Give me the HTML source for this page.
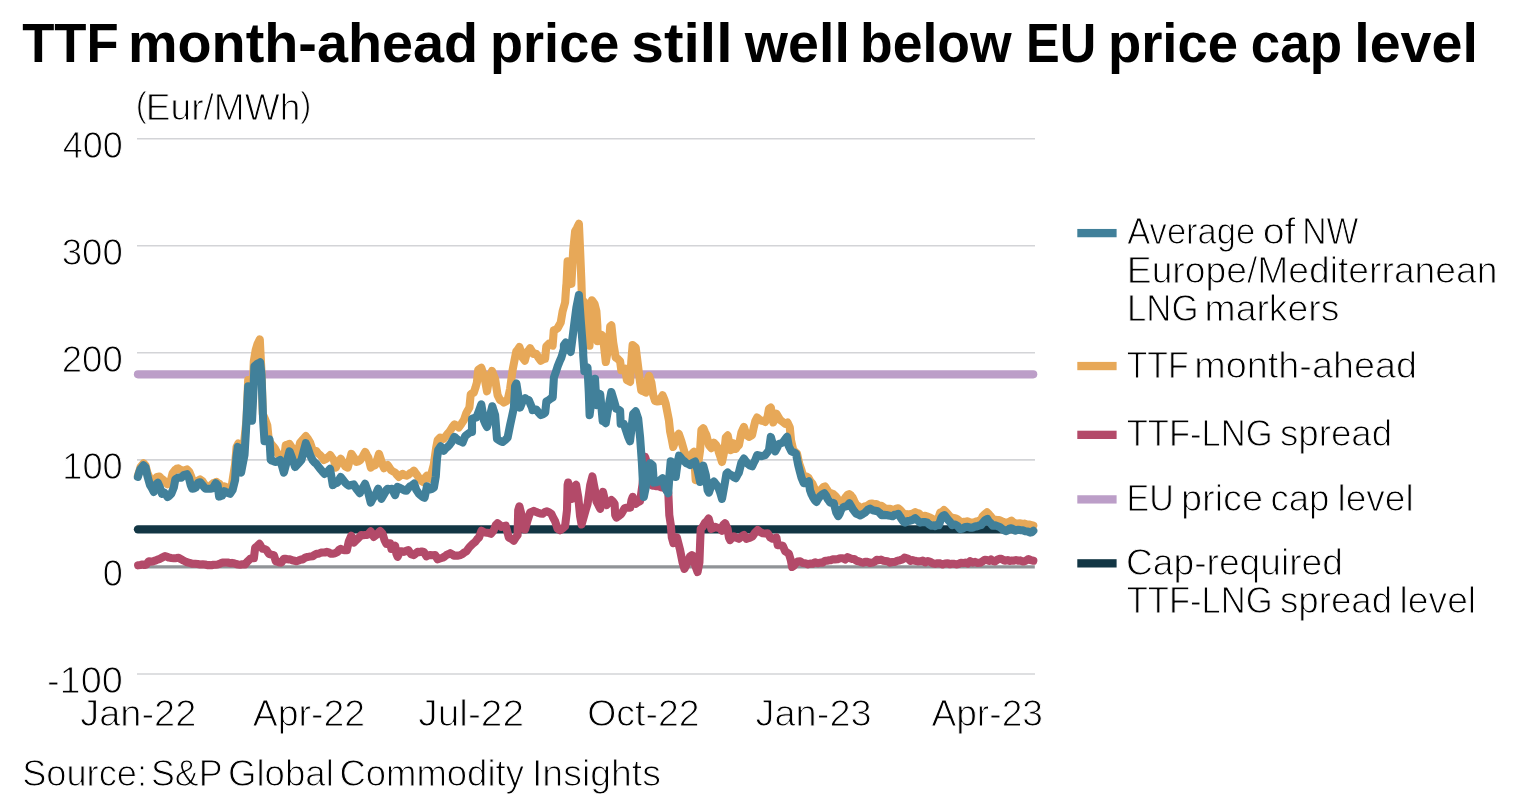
<!DOCTYPE html>
<html lang="en"><head><meta charset="utf-8"><title>TTF month-ahead price still well below EU price cap level</title>
<style>
html,body{margin:0;padding:0;background:#fff;}
body{width:1526px;height:808px;overflow:hidden;font-family:"Liberation Sans", sans-serif;}
svg{display:block;}
text{font-family:"Liberation Sans", sans-serif;fill:#000;}
text.b{font-weight:bold;}
text.r{stroke:#fff;stroke-width:1.0px;stroke-linejoin:round;}
.grid line{stroke:#d3d4d7;stroke-width:1.6;}
.s{fill:none;stroke-width:8.1;stroke-linejoin:round;stroke-linecap:round;}
</style></head>
<body>
<svg width="1526" height="808" viewBox="0 0 1526 808">
<rect width="1526" height="808" fill="#fff"/>
<g class="grid"><line x1="137" x2="1035" y1="138.7" y2="138.7"/><line x1="137" x2="1035" y1="245.8" y2="245.8"/><line x1="137" x2="1035" y1="352.8" y2="352.8"/><line x1="137" x2="1035" y1="459.9" y2="459.9"/><line x1="137" x2="1035" y1="674.0" y2="674.0"/></g>
<line x1="137" x2="1034.8" y1="566.9" y2="566.9" stroke="#909397" stroke-width="3.4"/>
<line class="s" x1="138" x2="1033.2" y1="374.35" y2="374.35" stroke="#bc9ec8" style="stroke-width:8.2"/>
<line class="s" x1="138" x2="1032" y1="529.35" y2="529.35" stroke="#123644" style="stroke-width:8.4"/>
<polyline class="s" stroke="#e7a858" points="137.9,475.7 139.2,471.6 140.6,466.9 142.1,465.2 143.5,463.2 145.6,465.7 147.5,473.2 149.1,476.7 150.7,479.4 152.2,479.6 153.8,480.7 155.4,478.8 156.9,476.9 159.4,476.5 160.9,478.1 162.5,479.4 165.0,481.6 167.5,484.4 170.1,483.2 172.6,473.2 175.1,470.0 176.6,468.8 178.2,468.4 180.4,469.9 182.6,470.7 184.8,470.3 186.9,469.4 189.4,471.9 191.0,475.9 192.6,480.7 195.1,481.9 197.6,481.0 200.1,479.4 202.6,481.3 204.4,484.2 206.3,486.3 208.2,486.5 210.1,486.9 211.6,484.6 213.2,483.2 214.8,482.8 216.4,481.9 217.9,483.2 219.5,483.8 222.0,488.8 224.5,486.3 226.1,487.1 227.6,488.8 229.6,487.6 231.6,486.9 233.3,475.7 235.1,464.4 236.6,446.9 238.4,443.5 239.9,456.1 241.3,468.0 243.9,444.5 246.5,420.0 248.2,380.0 250.5,395.0 252.0,410.0 253.8,361.3 255.7,350.0 257.6,343.8 259.8,339.4 260.3,350.0 261.3,368.8 262.0,387.6 262.8,414.0 265.1,419.3 267.3,425.3 268.8,440.1 271.0,443.7 273.2,446.3 275.1,448.8 276.9,452.4 278.8,455.1 281.4,457.9 283.9,461.3 285.7,445.1 287.6,444.5 289.5,443.8 291.4,446.8 293.2,450.1 294.8,453.4 296.4,457.6 298.2,450.3 300.1,442.6 302.0,440.5 303.9,438.3 305.8,436.1 308.0,439.0 310.1,442.6 312.6,450.1 314.5,450.5 316.4,451.1 318.3,453.6 320.2,455.1 322.0,457.1 323.9,460.1 326.0,458.9 328.1,457.1 330.2,455.1 332.0,457.6 333.9,460.1 335.8,467.6 338.3,462.7 340.8,458.8 343.0,462.5 345.2,466.3 347.7,467.6 349.5,461.1 351.4,453.8 353.9,457.5 356.4,462.0 358.3,461.4 360.2,460.1 362.7,456.5 365.2,452.0 366.8,455.0 368.3,457.6 370.8,467.6 373.0,465.9 375.2,465.1 377.1,459.9 379.0,453.8 380.9,459.5 382.7,465.1 384.0,468.2 385.9,467.0 387.7,465.1 389.4,467.5 391.0,470.1 393.1,471.5 395.1,472.5 397.0,474.9 398.9,476.9 400.8,475.1 402.6,473.8 404.5,475.2 406.4,475.7 408.2,474.9 410.1,473.2 412.0,472.3 413.9,470.7 415.4,472.8 417.0,475.0 419.5,478.8 421.1,480.6 422.7,481.9 425.2,477.5 427.0,475.7 428.6,476.8 430.2,478.8 431.9,471.7 433.7,465.0 436.2,447.5 437.7,440.0 440.1,437.5 442.0,438.3 443.8,438.8 445.7,436.3 447.6,433.8 449.5,431.7 451.3,428.8 452.9,426.3 454.5,424.4 456.6,425.5 458.8,427.5 461.4,423.8 463.9,420.0 466.3,413.2 467.9,410.2 469.4,407.6 470.7,394.4 472.2,393.2 473.8,392.6 475.4,387.8 476.9,382.5 478.2,370.0 479.8,368.7 481.3,367.8 482.9,372.5 484.5,377.5 487.0,391.3 489.5,376.3 492.0,371.0 493.6,375.3 495.1,378.8 497.6,395.1 500.1,400.1 502.0,401.0 503.9,402.6 505.8,401.5 507.6,400.1 510.1,388.8 512.6,370.0 514.5,360.3 516.3,351.4 517.8,349.6 519.4,347.0 521.0,351.9 522.5,357.6 524.8,360.7 526.1,355.8 527.5,351.4 528.8,350.2 530.1,348.2 531.7,350.9 533.2,353.9 534.8,354.0 536.3,353.9 538.5,357.6 540.7,360.7 542.9,359.4 545.1,358.9 546.3,346.3 548.8,343.8 550.7,345.2 552.6,345.7 553.8,330.1 555.7,329.6 557.6,328.2 559.2,325.3 560.7,322.6 562.6,311.3 565.1,302.5 566.3,285.0 566.3,287.6 567.6,261.3 569.5,275.1 571.4,283.9 573.2,250.1 575.1,231.3 577.0,228.0 578.9,223.8 580.1,250.1 581.4,281.4 582.0,301.4 582.0,300.0 583.9,301.4 585.7,303.8 587.0,326.3 589.5,345.7 590.8,320.1 592.0,300.3 594.5,303.8 596.4,311.3 597.4,326.3 597.6,341.3 599.8,338.5 602.0,335.1 603.9,345.1 605.8,362.0 607.3,353.2 608.9,345.1 610.2,326.3 611.4,325.3 613.2,342.5 615.7,357.5 617.9,358.9 620.1,361.3 621.3,370.1 623.2,369.8 625.1,368.8 626.9,380.1 628.5,380.9 630.1,381.9 631.3,361.3 632.6,345.0 634.2,346.2 635.7,347.5 638.2,367.5 640.1,382.6 641.3,390.7 643.5,391.3 645.7,392.6 647.6,380.1 649.1,375.9 651.4,382.6 653.2,395.1 655.1,401.1 657.3,401.5 659.5,401.3 661.0,398.1 662.6,395.3 664.2,399.1 665.7,403.8 667.3,412.1 668.9,420.1 670.1,431.4 671.7,438.9 673.2,446.9 674.8,442.4 676.3,437.5 678.8,433.8 680.1,437.6 681.4,441.3 683.9,450.1 686.4,458.8 688.2,456.9 690.1,455.1 692.0,453.9 693.9,451.9 695.7,480.1 697.9,465.4 700.1,450.1 701.4,430.0 703.3,428.2 704.8,431.7 706.4,435.0 708.9,445.1 711.4,448.2 713.9,442.6 715.8,444.7 717.6,447.6 718.9,452.4 720.2,456.3 722.0,462.0 724.5,450.1 725.8,437.5 727.7,435.4 730.2,447.6 730.8,450.1 733.3,443.2 735.8,448.8 737.3,446.7 738.9,445.1 741.4,432.5 743.9,426.9 746.4,435.0 748.9,436.9 750.5,436.0 752.1,435.0 753.7,427.7 755.2,421.3 757.1,417.5 759.3,419.4 761.5,420.7 763.4,421.0 765.2,421.9 767.7,416.3 769.0,408.8 770.8,407.5 773.3,422.5 774.9,417.9 776.5,413.8 778.4,417.0 780.2,420.0 782.7,421.9 785.2,423.8 787.5,422.5 789.8,427.5 791.0,440.1 793.2,449.8 795.1,451.9 797.0,453.6 799.3,463.8 801.1,469.0 803.0,475.1 804.8,476.3 806.5,476.5 808.3,477.6 810.4,481.2 812.5,483.8 814.1,487.5 815.7,490.1 817.2,491.0 818.8,491.3 820.3,490.1 821.9,488.8 823.5,487.0 825.0,486.3 826.9,489.3 828.8,492.6 831.0,493.2 833.2,494.1 835.4,496.0 837.6,498.8 839.2,500.4 840.7,501.3 842.2,500.7 843.8,500.1 846.3,496.3 847.7,494.7 849.1,494.1 850.9,495.4 852.6,497.6 854.5,501.6 856.3,505.1 858.2,505.9 860.1,507.6 862.6,507.4 865.1,506.3 867.6,505.6 870.1,503.8 872.2,503.5 874.3,504.5 876.4,504.1 878.9,505.5 881.4,505.7 883.2,507.0 885.1,508.8 887.6,508.8 890.1,508.8 892.0,509.5 893.9,510.1 896.1,508.7 898.3,508.2 899.8,509.5 901.4,511.3 903.2,513.4 905.1,514.5 907.0,514.1 908.9,514.5 911.0,514.1 913.1,513.4 915.2,512.0 917.0,513.2 918.9,513.2 921.4,516.3 923.3,516.3 925.2,515.7 927.0,516.4 928.9,517.0 931.4,518.4 933.9,520.1 935.8,519.6 937.7,520.1 940.2,512.6 942.0,511.9 943.9,510.1 945.8,511.8 947.7,513.8 949.6,516.1 951.5,518.8 953.4,517.9 955.2,518.2 957.3,519.2 959.4,520.9 961.5,522.6 963.6,521.8 965.6,521.7 967.7,521.3 969.9,522.4 972.1,522.6 974.0,522.4 975.8,521.6 977.7,521.3 979.4,520.6 981.0,520.1 982.6,516.3 984.8,514.1 987.0,512.3 988.6,513.7 990.2,515.7 991.8,517.6 993.3,520.1 995.2,519.6 997.0,520.0 998.9,520.1 1001.0,520.9 1003.1,521.9 1005.2,522.6 1007.3,522.5 1009.3,521.8 1011.4,520.7 1013.3,522.3 1015.2,523.2 1017.7,523.6 1020.2,523.2 1022.3,524.0 1024.3,523.6 1026.4,524.4 1029.0,524.5 1031.5,525.1 1033.3,525.7"/>
<polyline class="s" stroke="#b34a69" points="138.1,565.3 140.3,565.0 142.5,564.5 144.4,565.0 146.3,564.5 148.8,561.3 150.9,561.6 152.9,561.4 155.0,560.7 157.5,559.6 160.0,558.8 162.5,557.4 165.0,556.1 166.9,556.6 168.8,557.6 171.3,558.0 173.8,558.2 176.3,558.1 178.8,557.8 180.7,559.0 182.6,560.1 184.4,561.0 186.3,562.0 188.4,562.6 190.5,563.2 192.6,563.8 195.1,563.7 197.6,564.0 200.1,564.5 202.6,564.2 205.1,564.5 207.2,565.1 209.3,565.1 211.4,565.3 213.5,564.8 215.5,564.8 217.6,564.5 220.1,563.6 222.6,562.6 225.1,562.5 227.6,562.5 230.1,563.2 232.0,562.9 233.9,563.2 236.0,564.0 238.0,564.5 240.1,564.8 242.6,564.2 245.1,564.5 247.6,561.3 250.2,558.8 252.1,558.1 253.9,558.2 255.2,547.6 257.4,545.9 259.5,543.8 261.1,546.6 262.7,548.8 264.5,549.0 266.4,550.1 268.9,553.8 271.4,554.6 273.9,555.1 275.8,561.3 277.7,561.8 279.5,562.5 281.4,562.6 283.9,558.8 286.0,558.8 288.1,559.4 290.2,559.4 292.3,560.3 294.4,560.7 296.5,561.3 298.6,560.5 300.6,559.6 302.7,559.4 305.2,557.7 307.7,556.9 310.2,556.6 312.7,556.3 314.6,554.8 316.5,553.8 318.8,553.6 321.0,552.6 323.0,552.5 324.9,552.5 326.9,551.9 328.8,552.4 330.6,553.6 332.5,553.8 335.0,553.3 337.5,551.9 339.1,549.9 340.7,548.8 342.2,549.8 343.8,550.1 345.4,550.0 346.9,550.1 348.8,541.3 351.3,535.7 353.8,542.6 355.7,540.7 357.6,538.8 359.5,536.9 361.3,535.0 363.2,535.2 365.1,535.0 366.6,535.0 368.2,534.4 370.7,531.3 372.2,533.7 373.8,536.9 375.7,535.4 377.6,533.8 380.1,531.0 382.6,533.8 384.5,540.1 386.4,543.8 388.2,543.4 390.1,543.2 391.4,548.8 393.2,547.5 395.1,545.7 396.4,553.8 397.6,556.9 400.1,551.3 402.0,551.4 403.9,551.9 406.1,550.8 408.3,550.1 409.9,552.5 411.4,554.4 413.9,555.1 415.8,553.4 417.6,551.9 419.7,552.1 421.8,551.5 423.9,551.9 426.4,556.3 428.3,555.4 430.2,555.1 432.7,555.3 435.2,555.1 437.7,559.4 440.2,558.3 442.7,557.6 444.5,556.6 446.4,555.1 448.3,554.3 450.2,553.2 452.0,554.3 453.9,555.7 456.0,555.5 458.1,555.7 460.2,555.1 462.3,554.1 464.4,552.3 466.5,551.3 468.4,548.5 470.2,546.3 472.7,543.9 475.2,541.9 477.1,539.3 479.0,537.5 481.5,530.7 483.4,531.9 485.2,532.5 487.1,532.8 489.1,533.1 491.0,533.8 492.4,532.0 493.8,530.1 495.7,525.1 497.5,523.2 499.4,524.7 501.3,527.0 503.5,526.2 505.7,525.7 507.5,532.6 508.8,537.6 511.3,538.8 513.8,540.7 515.7,537.6 517.6,535.1 518.2,510.1 519.4,506.3 521.9,516.3 523.5,522.5 525.1,529.5 527.6,520.1 530.1,512.6 532.0,511.8 533.8,510.9 535.7,511.8 537.6,512.6 540.1,513.4 542.6,513.8 544.8,512.1 547.0,511.3 549.2,512.4 551.4,513.8 553.2,517.8 555.1,521.3 557.6,528.8 560.1,530.3 562.6,528.5 565.1,526.3 567.0,510.1 567.6,485.0 568.2,482.5 570.1,491.3 572.0,498.8 573.9,487.5 576.1,484.8 578.3,497.5 580.1,516.3 581.6,524.5 583.9,516.3 585.8,509.6 587.6,503.8 588.9,494.5 590.2,485.0 592.4,476.5 593.8,484.3 595.2,491.3 596.4,501.3 598.3,504.9 600.2,508.8 601.4,497.5 603.0,491.9 605.2,501.3 606.4,505.1 608.9,502.5 611.4,500.1 613.0,501.5 614.6,503.8 615.2,515.1 616.4,517.6 618.9,515.9 621.4,513.8 623.0,511.0 624.6,508.2 626.5,507.8 628.3,507.7 630.2,507.6 631.5,500.1 632.7,496.9 634.2,500.2 635.8,503.8 638.0,502.1 640.1,501.3 642.6,483.8 645.1,456.9 647.6,465.0 650.1,483.8 652.6,485.7 654.7,485.7 656.7,486.2 658.8,486.3 660.7,487.2 662.6,487.5 664.5,487.6 666.4,490.2 668.3,492.6 669.3,515.1 670.8,525.0 671.8,537.5 673.4,543.2 675.1,540.4 676.9,537.5 678.5,543.8 680.1,550.1 682.6,562.6 684.4,568.8 686.0,565.8 687.6,562.6 690.1,556.3 691.9,555.1 693.8,556.3 695.1,565.1 697.6,572.0 699.4,562.6 700.1,543.8 700.7,528.8 702.6,526.9 705.1,522.5 706.9,521.0 708.6,518.5 710.0,523.3 711.3,528.8 713.2,528.2 715.1,526.9 717.6,527.8 720.1,528.2 722.0,530.7 723.2,525.0 725.1,523.2 727.6,528.8 728.9,537.5 730.1,540.1 732.0,537.7 733.9,536.3 736.4,537.8 738.9,538.8 741.4,536.5 743.9,535.0 746.4,538.8 748.5,538.2 750.5,537.4 752.6,536.3 755.1,532.5 757.6,530.0 760.2,532.1 762.7,533.2 765.2,533.5 767.7,533.2 770.2,537.5 772.7,538.8 774.5,538.3 776.4,537.5 777.7,545.1 780.2,545.3 782.7,545.7 785.2,551.3 787.0,552.4 788.9,553.8 790.8,560.1 792.1,567.0 793.7,565.9 795.2,563.8 797.7,561.6 800.2,561.3 802.7,563.0 805.2,563.2 807.7,564.4 810.2,563.6 812.7,563.8 815.2,562.3 817.7,563.2 820.2,562.6 822.7,562.7 825.2,560.7 827.1,560.7 829.1,560.3 831.0,560.1 832.5,559.4 835.0,559.4 837.5,559.3 840.1,558.2 842.6,558.2 845.1,559.5 847.6,557.1 850.1,558.2 852.2,559.0 854.2,559.0 856.3,560.7 858.5,561.2 860.7,562.1 862.9,562.7 865.1,561.9 867.6,561.9 870.1,563.0 872.6,562.6 874.7,561.6 876.7,559.9 878.8,560.1 881.0,559.6 883.2,560.7 885.4,561.0 887.6,561.3 890.1,562.7 892.6,562.0 895.1,561.9 897.6,560.7 900.1,560.2 902.6,559.4 904.5,557.6 906.4,558.2 908.5,558.8 910.5,560.8 912.6,560.1 915.1,560.8 917.7,561.4 920.2,561.3 922.7,560.6 925.2,562.4 927.7,561.0 930.2,561.9 932.7,563.3 935.2,563.9 937.7,563.2 940.2,563.4 942.7,564.4 945.2,563.5 947.7,563.2 949.9,564.3 952.0,563.7 954.2,563.8 956.4,564.4 958.6,564.1 960.8,562.8 963.0,563.1 965.2,562.6 967.7,563.6 970.2,561.1 972.7,562.6 975.2,561.9 977.7,562.9 980.2,562.8 982.7,561.3 984.8,559.7 986.9,560.0 988.9,561.0 991.0,559.4 993.1,561.0 995.2,561.4 997.3,559.8 999.3,558.9 1001.4,558.8 1003.5,560.2 1005.6,560.7 1007.7,560.1 1009.8,560.9 1011.8,560.6 1013.9,560.7 1016.0,560.0 1018.1,560.7 1020.2,560.4 1022.3,561.4 1024.3,561.4 1026.4,560.4 1028.6,559.0 1030.8,560.1 1033.3,560.7"/>
<polyline class="s" stroke="#41809a" points="137.9,476.9 139.2,472.5 140.6,468.8 142.1,467.3 143.5,465.3 145.6,467.6 147.5,476.3 150.0,485.1 151.9,488.2 153.8,492.0 155.7,485.1 157.8,482.8 160.0,487.6 161.9,493.8 164.4,492.6 165.9,494.6 167.5,497.0 169.4,495.8 171.3,493.8 173.8,487.6 175.3,479.4 176.8,478.4 178.2,477.6 179.8,477.5 181.3,477.8 183.8,475.1 185.4,474.8 186.9,474.1 188.8,477.6 190.7,485.1 192.3,488.8 194.0,488.6 195.7,487.6 198.2,482.6 200.1,482.2 202.6,485.1 204.1,487.3 205.7,488.8 207.9,488.7 210.1,488.8 212.6,488.2 214.1,485.9 215.7,483.2 217.6,485.1 219.1,496.6 220.6,496.1 222.0,495.7 224.1,491.1 225.6,491.9 227.0,492.6 228.6,493.2 230.1,493.8 232.6,490.1 235.1,480.1 236.4,457.5 237.9,446.9 240.1,457.5 241.1,472.6 242.8,463.5 244.5,455.0 246.0,430.0 247.5,400.0 248.2,386.3 250.5,405.0 252.0,420.7 253.5,390.0 254.4,366.3 257.0,364.0 258.6,363.3 260.1,362.3 261.5,375.0 262.0,390.0 263.2,421.3 264.5,441.3 267.0,440.2 269.5,439.4 270.7,460.1 272.9,460.9 275.1,462.0 277.6,461.5 280.1,460.1 282.0,465.9 283.9,472.6 285.8,465.2 287.6,458.5 289.5,451.3 291.4,456.3 293.2,461.3 295.1,467.0 297.2,464.7 299.3,462.4 301.4,460.1 303.6,451.4 305.8,443.2 308.0,448.7 310.1,455.1 312.6,460.1 314.5,462.4 316.4,463.8 318.3,466.5 320.2,468.8 322.4,471.5 324.5,473.9 326.3,472.4 328.2,471.0 330.0,468.8 331.4,476.6 332.8,485.1 335.1,483.5 337.5,482.6 339.1,479.7 340.7,476.9 342.9,479.7 345.1,482.6 347.0,484.5 348.8,485.7 351.3,485.0 353.8,484.4 356.3,488.8 358.1,491.1 359.8,493.2 361.6,489.7 363.3,487.0 365.1,483.8 366.6,488.1 368.2,492.6 370.7,502.6 372.9,498.4 375.1,495.1 376.6,492.3 378.2,488.8 379.8,493.8 381.4,498.8 383.9,494.4 386.4,490.1 387.6,488.8 389.8,489.2 392.0,488.8 393.6,492.2 395.1,495.1 397.6,486.9 400.1,488.0 402.6,489.4 404.5,490.4 406.4,490.7 408.2,488.3 410.1,486.3 412.1,485.2 414.1,483.6 416.4,490.1 418.9,493.8 420.8,495.5 422.6,497.0 424.5,497.8 427.0,486.3 428.6,487.4 430.2,489.4 432.0,488.8 433.9,487.6 435.8,476.3 437.0,458.8 438.2,450.0 440.7,446.3 442.2,448.3 443.8,450.7 445.7,448.4 447.6,446.9 449.5,445.0 451.3,442.5 452.9,439.6 454.5,436.9 456.6,438.7 458.8,440.7 460.7,441.5 462.6,442.5 465.1,436.3 467.0,434.6 468.9,433.1 470.4,432.2 472.0,431.9 472.0,418.8 474.1,418.0 476.3,417.6 478.8,411.2 481.3,404.4 483.8,420.1 485.4,423.9 487.0,427.0 488.6,421.3 490.1,415.1 492.3,406.3 493.7,410.9 495.1,415.1 497.0,438.9 498.9,440.2 500.7,441.2 502.6,442.0 505.1,440.1 507.6,437.6 510.1,425.1 512.0,416.5 513.9,407.6 515.1,386.3 516.4,383.5 518.2,395.1 520.1,407.6 522.6,401.3 525.1,398.2 527.0,399.5 528.9,400.1 530.5,404.3 532.0,407.6 532.6,410.1 534.5,409.4 536.4,409.5 538.6,412.6 540.8,415.1 543.0,414.2 545.2,412.6 546.4,401.3 548.9,400.1 550.8,398.4 552.7,397.6 553.9,377.5 555.8,372.1 557.7,366.3 559.5,361.7 561.4,357.5 563.9,348.8 563.9,345.1 565.7,342.6 568.2,347.0 570.7,352.0 573.2,332.6 574.8,319.7 576.4,307.5 578.9,295.0 580.7,320.1 583.2,351.4 583.2,355.0 584.4,371.3 586.0,369.2 587.5,367.5 588.8,392.6 589.6,415.1 591.0,403.9 592.5,392.6 595.0,378.8 596.5,405.1 598.4,399.5 600.2,394.0 602.7,421.1 604.2,421.7 605.7,423.2 607.2,414.6 608.8,405.1 611.3,392.0 613.8,400.1 616.3,408.8 618.2,409.5 620.1,410.7 620.7,423.8 622.2,423.6 623.8,423.8 626.3,431.3 628.1,436.7 630.0,441.3 631.9,425.0 633.2,413.8 635.7,411.3 638.2,418.8 640.1,437.5 641.9,462.6 643.2,487.6 643.8,497.0 645.7,487.6 647.6,468.8 650.1,463.2 652.6,465.1 653.8,482.6 656.3,482.3 658.8,481.4 660.7,479.7 662.6,478.2 665.1,487.6 666.7,490.5 668.2,493.2 669.5,475.1 670.7,461.3 672.2,462.2 673.8,463.8 675.7,477.0 677.6,462.6 679.1,455.7 680.9,457.9 682.6,460.1 684.5,461.4 686.4,463.2 688.2,463.9 690.1,465.1 692.6,462.9 695.1,461.6 697.6,470.1 700.1,482.0 702.0,470.1 703.3,465.7 705.8,475.1 707.6,490.1 708.9,492.6 710.5,487.9 712.0,483.9 713.9,481.6 715.8,484.0 717.6,486.4 718.9,489.0 720.2,492.6 722.0,498.9 724.5,485.1 726.4,473.8 727.7,472.6 729.5,474.2 731.4,475.1 733.6,477.1 735.8,478.2 737.3,475.3 738.9,472.6 741.4,462.6 743.9,458.6 745.8,461.3 747.7,463.8 749.9,465.4 752.1,466.3 753.7,462.8 755.2,460.1 757.1,455.1 759.3,455.4 761.5,456.3 763.4,455.6 765.2,455.1 767.1,452.6 769.0,450.1 770.8,436.9 772.4,442.7 774.0,447.6 775.2,451.3 777.1,447.8 779.0,443.8 780.9,443.3 782.7,442.6 784.9,439.6 787.1,436.9 788.8,446.3 791.3,451.3 793.6,452.3 796.0,453.8 798.2,465.1 799.9,471.7 801.5,477.6 803.8,483.2 805.3,483.3 806.9,482.5 808.8,481.3 810.0,490.1 811.6,494.5 813.2,497.6 814.9,500.3 816.5,501.9 818.2,498.8 820.0,496.3 822.2,494.5 824.4,493.2 826.0,495.5 827.5,498.8 828.8,500.6 830.1,502.6 832.0,502.7 833.8,503.2 836.3,512.6 838.2,516.1 839.7,513.6 841.1,509.8 842.5,508.2 843.8,506.9 846.3,506.3 847.8,505.3 849.4,503.2 851.0,506.0 852.6,508.8 854.5,511.5 856.3,513.8 858.2,514.5 860.1,515.5 862.6,514.1 865.1,512.6 867.6,509.9 870.1,508.6 872.6,510.2 875.1,510.7 877.6,511.3 879.5,512.7 881.4,515.1 883.9,514.9 886.4,515.1 888.5,515.5 890.5,515.9 892.6,516.3 894.5,514.8 896.4,514.5 898.3,513.8 899.8,516.3 901.4,518.8 903.2,521.3 905.1,522.6 907.7,521.0 910.2,520.7 912.7,519.9 915.2,518.2 917.7,520.5 920.2,522.6 922.7,522.1 925.2,522.0 927.3,522.7 929.3,524.5 931.4,525.7 933.3,525.4 935.2,526.1 937.0,524.9 938.9,525.1 941.4,517.6 943.0,515.7 944.6,515.1 946.5,517.6 948.3,520.1 950.2,522.1 952.1,525.1 953.7,524.6 955.2,524.5 957.7,526.2 960.2,529.1 962.7,528.5 965.2,527.0 967.7,526.8 970.2,527.6 972.7,527.6 975.2,526.3 977.1,526.4 979.1,525.5 981.0,525.1 983.0,522.6 985.1,520.1 987.4,519.0 988.8,521.5 990.2,522.6 992.7,525.7 995.2,525.4 997.7,526.3 1000.2,527.3 1002.7,529.4 1004.2,530.4 1005.8,531.1 1007.7,530.4 1009.5,528.7 1011.4,528.2 1013.3,529.3 1015.2,530.7 1017.7,529.7 1020.2,530.1 1022.7,530.3 1025.2,531.3 1027.7,531.5 1030.2,532.6 1031.8,532.3 1033.3,530.7"/>
<g>
<rect x="1077.3" y="228.95" width="39.3" height="8.3" fill="#41809a"/>
<rect x="1077.3" y="361.90" width="39.3" height="8.3" fill="#e7a858"/>
<rect x="1077.3" y="430.70" width="39.3" height="8.3" fill="#b34a69"/>
<rect x="1077.3" y="495.25" width="39.3" height="8.3" fill="#bc9ec8"/>
<rect x="1077.3" y="559.20" width="39.3" height="8.3" fill="#123644"/>
</g>
<g>
<text class="b" y="62.20" font-size="56.0"><tspan x="22.20" y="62.20" textLength="96.52" lengthAdjust="spacingAndGlyphs">TTF</tspan> <tspan x="127.91" y="62.20" textLength="350.26" lengthAdjust="spacingAndGlyphs">month-ahead</tspan> <tspan x="490.02" y="62.20" textLength="129.33" lengthAdjust="spacingAndGlyphs">price</tspan> <tspan x="631.26" y="62.20" textLength="101.21" lengthAdjust="spacingAndGlyphs">still</tspan> <tspan x="744.87" y="62.20" textLength="105.02" lengthAdjust="spacingAndGlyphs">well</tspan> <tspan x="860.06" y="62.20" textLength="151.56" lengthAdjust="spacingAndGlyphs">below</tspan> <tspan x="1025.94" y="62.20" textLength="70.20" lengthAdjust="spacingAndGlyphs">EU</tspan> <tspan x="1107.90" y="62.20" textLength="130.16" lengthAdjust="spacingAndGlyphs">price</tspan> <tspan x="1250.74" y="62.20" textLength="91.29" lengthAdjust="spacingAndGlyphs">cap</tspan> <tspan x="1354.22" y="62.20" textLength="123.77" lengthAdjust="spacingAndGlyphs">level</tspan></text>
<text class="r" y="119.80" font-size="37"><tspan x="135.73" font-size="34.6" y="116.50" textLength="11.13" lengthAdjust="spacingAndGlyphs">(</tspan><tspan x="145.80" y="119.80" textLength="154.48" lengthAdjust="spacingAndGlyphs">Eur/MWh</tspan><tspan x="300.20" font-size="34.6" y="116.50" textLength="11.13" lengthAdjust="spacingAndGlyphs">)</tspan></text>
<text class="r" y="158.10" font-size="36.5"><tspan x="62.64" y="158.10" textLength="60.16" lengthAdjust="spacingAndGlyphs">400</tspan></text>
<text class="r" y="265.16" font-size="36.5"><tspan x="61.65" y="265.16" textLength="61.16" lengthAdjust="spacingAndGlyphs">300</tspan></text>
<text class="r" y="372.22" font-size="36.5"><tspan x="61.79" y="372.22" textLength="61.03" lengthAdjust="spacingAndGlyphs">200</tspan></text>
<text class="r" y="479.28" font-size="36.5"><tspan x="62.23" y="479.28" textLength="60.57" lengthAdjust="spacingAndGlyphs">100</tspan></text>
<text class="r" y="586.34" font-size="36.5"><tspan x="102.67" y="586.34" textLength="20.13" lengthAdjust="spacingAndGlyphs">0</tspan></text>
<text class="r" y="693.40" font-size="36.5"><tspan x="46.91" y="693.40" textLength="75.93" lengthAdjust="spacingAndGlyphs">-100</tspan></text>
<text class="r" y="726.40" font-size="37"><tspan x="80.21" y="726.40" textLength="116.13" lengthAdjust="spacingAndGlyphs">Jan-22</tspan></text>
<text class="r" y="726.40" font-size="37"><tspan x="252.80" y="726.40" textLength="112.32" lengthAdjust="spacingAndGlyphs">Apr-22</tspan></text>
<text class="r" y="726.40" font-size="37"><tspan x="418.29" y="726.40" textLength="105.78" lengthAdjust="spacingAndGlyphs">Jul-22</tspan></text>
<text class="r" y="726.40" font-size="37"><tspan x="587.24" y="726.40" textLength="112.37" lengthAdjust="spacingAndGlyphs">Oct-22</tspan></text>
<text class="r" y="726.40" font-size="37"><tspan x="755.51" y="726.40" textLength="116.13" lengthAdjust="spacingAndGlyphs">Jan-23</tspan></text>
<text class="r" y="726.40" font-size="37"><tspan x="931.40" y="726.40" textLength="111.61" lengthAdjust="spacingAndGlyphs">Apr-23</tspan></text>
<text class="r" y="785.60" font-size="37"><tspan x="22.17" y="785.60" textLength="124.80" lengthAdjust="spacingAndGlyphs">Source:</tspan> <tspan x="150.99" y="785.60" textLength="70.89" lengthAdjust="spacingAndGlyphs">S&amp;P</tspan> <tspan x="227.88" y="785.60" textLength="105.93" lengthAdjust="spacingAndGlyphs">Global</tspan> <tspan x="339.39" y="785.60" textLength="184.51" lengthAdjust="spacingAndGlyphs">Commodity</tspan> <tspan x="531.98" y="785.60" textLength="128.99" lengthAdjust="spacingAndGlyphs">Insights</tspan></text>
<text class="r" y="244.30" font-size="37"><tspan x="1127.20" y="244.30" textLength="128.10" lengthAdjust="spacingAndGlyphs">Average</tspan> <tspan x="1262.67" y="244.30" textLength="32.79" lengthAdjust="spacingAndGlyphs">of</tspan> <tspan x="1302.16" y="244.30" textLength="56.22" lengthAdjust="spacingAndGlyphs">NW</tspan></text>
<text class="r" y="282.70" font-size="37"><tspan x="1126.79" y="282.70" textLength="370.70" lengthAdjust="spacingAndGlyphs">Europe/Mediterranean</tspan></text>
<text class="r" y="321.30" font-size="37"><tspan x="1126.98" y="321.30" textLength="71.52" lengthAdjust="spacingAndGlyphs">LNG</tspan> <tspan x="1204.57" y="321.30" textLength="134.80" lengthAdjust="spacingAndGlyphs">markers</tspan></text>
<text class="r" y="377.50" font-size="37"><tspan x="1126.67" y="377.50" textLength="61.93" lengthAdjust="spacingAndGlyphs">TTF</tspan> <tspan x="1194.34" y="377.50" textLength="222.68" lengthAdjust="spacingAndGlyphs">month-ahead</tspan></text>
<text class="r" y="446.10" font-size="37"><tspan x="1126.66" y="446.10" textLength="145.92" lengthAdjust="spacingAndGlyphs">TTF-LNG</tspan> <tspan x="1279.93" y="446.10" textLength="112.23" lengthAdjust="spacingAndGlyphs">spread</tspan></text>
<text class="r" y="510.50" font-size="37"><tspan x="1126.54" y="510.50" textLength="47.31" lengthAdjust="spacingAndGlyphs">EU</tspan> <tspan x="1181.03" y="510.50" textLength="82.10" lengthAdjust="spacingAndGlyphs">price</tspan> <tspan x="1270.46" y="510.50" textLength="59.03" lengthAdjust="spacingAndGlyphs">cap</tspan> <tspan x="1337.48" y="510.50" textLength="76.26" lengthAdjust="spacingAndGlyphs">level</tspan></text>
<text class="r" y="574.60" font-size="37"><tspan x="1125.96" y="574.60" textLength="216.93" lengthAdjust="spacingAndGlyphs">Cap-required</tspan></text>
<text class="r" y="613.00" font-size="37"><tspan x="1126.66" y="613.00" textLength="145.92" lengthAdjust="spacingAndGlyphs">TTF-LNG</tspan> <tspan x="1279.93" y="613.00" textLength="112.23" lengthAdjust="spacingAndGlyphs">spread</tspan> <tspan x="1399.57" y="613.00" textLength="76.58" lengthAdjust="spacingAndGlyphs">level</tspan></text>
</g>
</svg>
</body></html>
